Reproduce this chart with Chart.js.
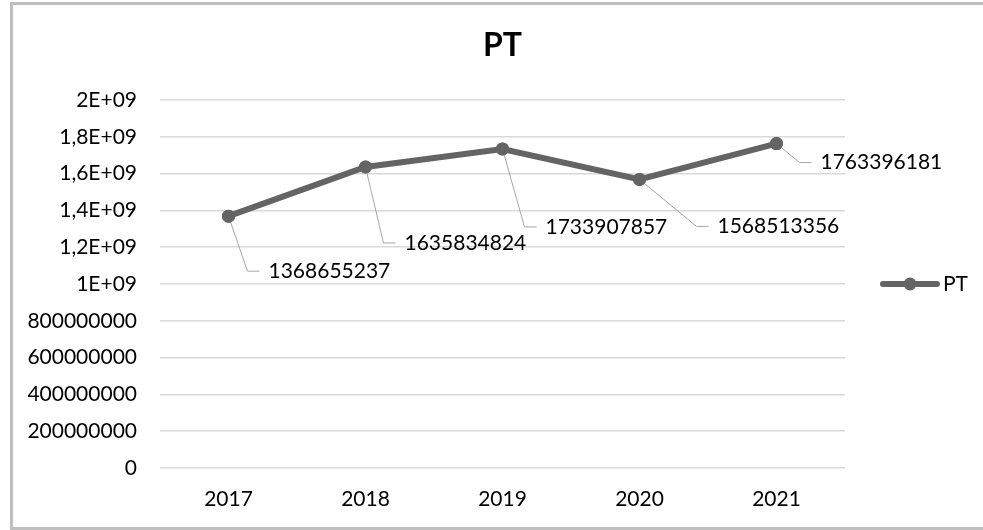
<!DOCTYPE html>
<html>
<head>
<meta charset="utf-8">
<script src="https://cdn.jsdelivr.net/npm/chart.js@4"></script>
<style>
    html, body { margin: 0; padding: 0; background: #fff; }
    #wrap { position: relative; width: 983px; height: 530px; }
    #frame {
        position: absolute; left: 10px; top: 2px; width: 980px; height: 522px;
        border-left: 3px solid #bfbfbf; border-top: 3px solid #bfbfbf; border-bottom: 3px solid #bfbfbf;
        pointer-events: none;
    }
    canvas { position: absolute; left: 0; top: 0; }
</style>
</head>
<body>
<div id="wrap">
    <canvas id="chart" width="983" height="530"></canvas>
    <div id="frame"></div>
</div>
<script>
const years = ['2017', '2018', '2019', '2020', '2021'];
const ptValues = [1368655237, 1635834824, 1733907857, 1568513356, 1763396181];
const seriesName = 'PT';
const yMax = 2000000000;
const yStep = 200000000;

// label offsets from each point (text left edge, text middle)
const labelOffsets = [[40, 55], [39, 76], [43, 78], [78, 47], [44, 19]];

const FONT = 'Lato, "Open Sans", sans-serif';
const TEXT_SIZE = 21;
const LINE_COLOR = '#646464';

function excelTick(v) {
    if (v >= 1e9) return String(v / 1e9).replace('.', ',') + 'E+09';
    return String(v);
}

const titlePlugin = {
    id: 'excelTitle',
    afterDraw(chart) {
        const { ctx, chartArea } = chart;
        ctx.save();
        ctx.font = 'bold 32px ' + FONT;
        ctx.fillStyle = '#000';
        ctx.textAlign = 'center';
        ctx.textBaseline = 'alphabetic';
        ctx.fillText(seriesName, (chartArea.left + chartArea.right) / 2, 56);
        ctx.restore();
    }
};

const leaderLabels = {
    id: 'leaderLabels',
    afterDatasetsDraw(chart) {
        const { ctx } = chart;
        const meta = chart.getDatasetMeta(0);
        const data = chart.data.datasets[0].data;
        ctx.save();
        meta.data.forEach((pt, i) => {
            const [dx, dy] = labelOffsets[i];
            const tx = pt.x + dx;
            const ty = pt.y + dy;
            ctx.strokeStyle = '#a6a6a6';
            ctx.lineWidth = 1;
            ctx.beginPath();
            ctx.moveTo(pt.x, pt.y);
            ctx.lineTo(tx - 21, ty);
            ctx.lineTo(tx - 9, ty);
            ctx.stroke();
            ctx.font = TEXT_SIZE + 'px ' + FONT;
            ctx.fillStyle = '#000';
            ctx.textAlign = 'left';
            ctx.textBaseline = 'middle';
            ctx.fillText(String(data[i]), tx, ty);
        });
        // markers go back on top of the leader lines
        meta.data.forEach(pt => {
            ctx.fillStyle = LINE_COLOR;
            ctx.beginPath();
            ctx.arc(pt.x, pt.y, 6.5, 0, Math.PI * 2);
            ctx.fill();
        });
        ctx.restore();
    }
};

const sideLegend = {
    id: 'sideLegend',
    afterDraw(chart) {
        const { ctx, chartArea } = chart;
        const y = (chartArea.top + chartArea.bottom) / 2;
        const x0 = chartArea.right + 38;
        ctx.save();
        ctx.strokeStyle = LINE_COLOR;
        ctx.lineWidth = 6;
        ctx.lineCap = 'round';
        ctx.beginPath();
        ctx.moveTo(x0, y);
        ctx.lineTo(x0 + 54, y);
        ctx.stroke();
        ctx.fillStyle = LINE_COLOR;
        ctx.beginPath();
        ctx.arc(x0 + 27, y, 6.5, 0, Math.PI * 2);
        ctx.fill();
        ctx.font = TEXT_SIZE + 'px ' + FONT;
        ctx.fillStyle = '#000';
        ctx.textAlign = 'left';
        ctx.textBaseline = 'middle';
        ctx.fillText(chart.data.datasets[0].label, x0 + 60, y);
        ctx.restore();
    }
};

new Chart(document.getElementById('chart').getContext('2d'), {
    type: 'line',
    data: {
        labels: years,
        datasets: [{
            label: seriesName,
            data: ptValues,
            borderColor: LINE_COLOR,
            backgroundColor: LINE_COLOR,
            borderWidth: 6,
            pointRadius: 6.5,
            pointBackgroundColor: LINE_COLOR,
            pointBorderWidth: 0,
            tension: 0
        }]
    },
    options: {
        responsive: false,
        animation: false,
        layout: { padding: { left: 0, right: 138, top: 100, bottom: 0 } },
        plugins: {
            legend: { display: false },
            title: { display: false },
            tooltip: { enabled: false }
        },
        scales: {
            x: {
                offset: true,
                grid: { display: false, drawTicks: false },
                border: { display: false },
                ticks: { color: '#000', font: { family: FONT, size: TEXT_SIZE }, padding: 19 },
                afterFit: s => { s.height = 62; }
            },
            y: {
                min: 0,
                max: yMax,
                grid: { color: '#d9d9d9', lineWidth: 1.5, drawTicks: false },
                border: { display: false },
                ticks: {
                    stepSize: yStep,
                    color: '#000',
                    font: { family: FONT, size: TEXT_SIZE },
                    padding: 23,
                    callback: v => excelTick(v)
                },
                afterFit: s => { s.width = 160; }
            }
        }
    },
    plugins: [titlePlugin, leaderLabels, sideLegend]
});
</script>
</body>
</html>
